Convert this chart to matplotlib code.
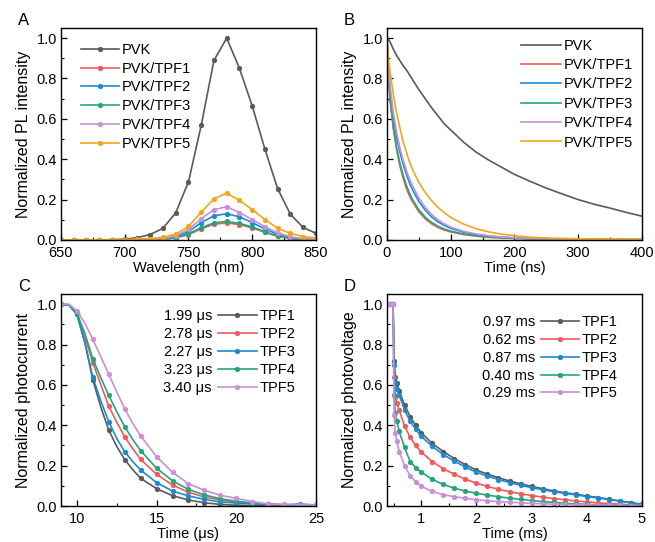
import matplotlib
matplotlib.use('Agg')
import numpy as np
from matplotlib import pyplot as plt
from matplotlib.ticker import MultipleLocator

plt.rcParams['font.family'] = ['Liberation Sans', 'DejaVu Sans']
plt.rcParams['font.size'] = 10
plt.rcParams['axes.linewidth'] = 1.0

# colours
c_gray = '#5a5a5a'
c_red = '#f15a5a'
c_blue = '#1a8bd3'
c_green = '#27a57a'
c_lilac = '#c990d8'
c_orange = '#f2a71b'

# ---- A: steady-state PL ----
wl = [650, 660, 670, 680, 690, 700, 710, 720, 730, 740, 750, 760, 770, 780, 790, 800, 810, 820, 830, 840, 850]
pl_pvk = [0, 0, 0, 0, 0.002, 0.004, 0.012, 0.027, 0.058, 0.135, 0.288, 0.568, 0.89, 1.0, 0.85, 0.664, 0.449, 0.253, 0.127, 0.062, 0.033]
pl_tpf1 = [0, 0, 0, 0, 0, 0, 0.001, 0.002, 0.004, 0.01, 0.027, 0.055, 0.078, 0.085, 0.076, 0.06, 0.038, 0.018, 0.007, 0.002, 0.001]
pl_tpf2 = [0, 0, 0, 0, 0, 0, 0.001, 0.002, 0.005, 0.016, 0.042, 0.086, 0.12, 0.13, 0.115, 0.086, 0.055, 0.028, 0.012, 0.004, 0.002]
pl_tpf3 = [0, 0, 0, 0, 0, 0, 0.001, 0.002, 0.004, 0.011, 0.031, 0.061, 0.085, 0.092, 0.082, 0.065, 0.041, 0.02, 0.008, 0.003, 0.001]
pl_tpf4 = [0, 0, 0, 0, 0, 0.001, 0.002, 0.003, 0.007, 0.021, 0.052, 0.106, 0.15, 0.165, 0.136, 0.101, 0.066, 0.036, 0.016, 0.006, 0.003]
pl_tpf5 = [0, 0, 0, 0, 0.001, 0.002, 0.004, 0.007, 0.013, 0.029, 0.067, 0.138, 0.204, 0.232, 0.196, 0.151, 0.101, 0.058, 0.033, 0.017, 0.01]

# ---- B: TRPL ----
t_b = [0, 2, 5, 10, 15, 20, 25, 30, 35, 40, 50, 60, 70, 80, 90, 100, 120, 140, 160, 180, 200, 225, 250, 275, 300, 325, 350, 375, 400]
tr_pvk = [1.0, 0.995, 0.98, 0.945, 0.915, 0.89, 0.865, 0.845, 0.82, 0.795, 0.745, 0.70, 0.655, 0.615, 0.575, 0.545, 0.485, 0.435, 0.395, 0.36, 0.325, 0.29, 0.257, 0.228, 0.2, 0.177, 0.158, 0.137, 0.118]
tr_tpf1 = [1.0, 0.83, 0.69, 0.55, 0.45, 0.37, 0.31, 0.26, 0.22, 0.19, 0.14, 0.105, 0.08, 0.062, 0.049, 0.04, 0.027, 0.019, 0.013, 0.01, 0.008, 0.006, 0.005, 0.004, 0.003, 0.003, 0.002, 0.002, 0.002]
tr_tpf2 = [1.0, 0.86, 0.74, 0.61, 0.51, 0.44, 0.38, 0.33, 0.285, 0.25, 0.19, 0.148, 0.115, 0.09, 0.072, 0.058, 0.039, 0.027, 0.019, 0.014, 0.01, 0.008, 0.006, 0.005, 0.004, 0.003, 0.003, 0.002, 0.002]
tr_tpf3 = [1.0, 0.84, 0.70, 0.56, 0.46, 0.385, 0.325, 0.275, 0.235, 0.2, 0.15, 0.113, 0.087, 0.068, 0.054, 0.044, 0.03, 0.021, 0.015, 0.011, 0.008, 0.006, 0.005, 0.004, 0.003, 0.003, 0.002, 0.002, 0.002]
tr_tpf4 = [1.0, 0.87, 0.76, 0.63, 0.535, 0.46, 0.40, 0.35, 0.305, 0.27, 0.208, 0.162, 0.127, 0.1, 0.08, 0.064, 0.043, 0.03, 0.021, 0.015, 0.011, 0.008, 0.006, 0.005, 0.004, 0.003, 0.003, 0.002, 0.002]
tr_tpf5 = [1.0, 0.91, 0.83, 0.72, 0.63, 0.56, 0.49, 0.44, 0.39, 0.35, 0.285, 0.235, 0.195, 0.162, 0.135, 0.112, 0.079, 0.056, 0.04, 0.029, 0.021, 0.014, 0.01, 0.008, 0.006, 0.005, 0.004, 0.003, 0.003]

# ---- C: transient photocurrent ----
t_c = [9.0, 9.5, 10.0, 10.5, 11.0, 11.5, 12.0, 12.5, 13.0, 13.5, 14.0, 15, 16, 17, 18, 19, 20, 21, 22, 23, 24, 25]
pc_tpf1 = [1.0, 0.995, 0.95, 0.81, 0.625, 0.49, 0.375, 0.295, 0.23, 0.18, 0.137, 0.086, 0.051, 0.03, 0.016, 0.008, 0.004, 0.002, 0.001, 0.0, 0.0, 0.0]
pc_tpf2 = [1.0, 0.995, 0.955, 0.84, 0.71, 0.6, 0.495, 0.415, 0.343, 0.284, 0.231, 0.157, 0.104, 0.068, 0.045, 0.03, 0.02, 0.012, 0.008, 0.005, 0.003, 0.002]
pc_tpf3 = [1.0, 0.995, 0.95, 0.81, 0.637, 0.52, 0.417, 0.335, 0.269, 0.22, 0.178, 0.116, 0.074, 0.05, 0.033, 0.02, 0.015, 0.01, 0.01, 0.006, 0.01, 0.005]
pc_tpf4 = [1.0, 0.995, 0.955, 0.855, 0.728, 0.635, 0.548, 0.467, 0.393, 0.33, 0.274, 0.187, 0.125, 0.082, 0.055, 0.036, 0.024, 0.015, 0.01, 0.006, 0.004, 0.003]
pc_tpf5 = [1.0, 1.0, 0.967, 0.905, 0.825, 0.74, 0.652, 0.565, 0.482, 0.41, 0.347, 0.244, 0.167, 0.11, 0.078, 0.053, 0.038, 0.022, 0.01, 0.008, 0.006, 0.005]
tau_c = ['1.99 \u03bcs', '2.78 \u03bcs', '2.27 \u03bcs', '3.23 \u03bcs', '3.40 \u03bcs']

# ---- D: transient photovoltage ----
t_d = [0.38, 0.44, 0.49, 0.51, 0.53, 0.56, 0.6, 0.7, 0.8, 0.9, 1.0, 1.2, 1.4, 1.6, 1.8, 2.0, 2.2, 2.4, 2.6, 2.8, 3.0, 3.2, 3.4, 3.6, 3.8, 4.0, 4.2, 4.4, 4.6, 4.8, 5.0]
pv_tpf1 = [1.0, 1.0, 1.0, 0.72, 0.64, 0.61, 0.57, 0.5, 0.442, 0.40, 0.363, 0.31, 0.27, 0.235, 0.205, 0.178, 0.158, 0.14, 0.124, 0.11, 0.097, 0.086, 0.075, 0.066, 0.058, 0.05, 0.042, 0.034, 0.025, 0.017, 0.008]
pv_tpf2 = [1.0, 1.0, 1.0, 0.64, 0.54, 0.51, 0.475, 0.395, 0.34, 0.3, 0.268, 0.22, 0.185, 0.157, 0.133, 0.113, 0.097, 0.083, 0.071, 0.061, 0.052, 0.044, 0.037, 0.031, 0.025, 0.02, 0.016, 0.012, 0.009, 0.006, 0.004]
pv_tpf3 = [1.0, 1.0, 1.0, 0.7, 0.61, 0.58, 0.55, 0.475, 0.42, 0.38, 0.345, 0.295, 0.255, 0.222, 0.193, 0.167, 0.148, 0.131, 0.116, 0.103, 0.091, 0.081, 0.071, 0.063, 0.055, 0.047, 0.04, 0.032, 0.024, 0.016, 0.008]
pv_tpf4 = [1.0, 1.0, 1.0, 0.55, 0.46, 0.42, 0.37, 0.29, 0.22, 0.19, 0.168, 0.132, 0.107, 0.088, 0.074, 0.063, 0.054, 0.046, 0.039, 0.033, 0.027, 0.022, 0.018, 0.014, 0.011, 0.008, 0.006, 0.005, 0.004, 0.003, 0.002]
pv_tpf5 = [1.0, 1.0, 1.0, 0.45, 0.36, 0.32, 0.27, 0.2, 0.15, 0.12, 0.098, 0.072, 0.056, 0.046, 0.038, 0.031, 0.026, 0.022, 0.019, 0.016, 0.013, 0.011, 0.009, 0.008, 0.007, 0.005, 0.004, 0.003, 0.003, 0.002, 0.002]
tau_d = ['0.97 ms', '0.62 ms', '0.87 ms', '0.40 ms', '0.29 ms']

fig = plt.figure(figsize=(6.55, 5.42), dpi=100)
axA = fig.add_axes([0.0931, 0.5572, 0.3893, 0.3911])
axB = fig.add_axes([0.5908, 0.5572, 0.3893, 0.3911])
axC = fig.add_axes([0.0931, 0.0664, 0.3893, 0.3911])
axD = fig.add_axes([0.5908, 0.0664, 0.3893, 0.3911])

mk = dict(marker='o', markersize=3.2, markeredgewidth=0.6, linewidth=1.2)
leg_kw = dict(loc='upper left', frameon=False, fontsize=10.5, handletextpad=0.2,
              borderpad=0, borderaxespad=0)


def style(ax, xmaj, xmin, xlim, xlabel, ylabel):
    ax.set_xlim(*xlim)
    ax.set_ylim(0, 1.05)
    ax.xaxis.set_major_locator(MultipleLocator(xmaj))
    ax.xaxis.set_minor_locator(MultipleLocator(xmin))
    ax.yaxis.set_major_locator(MultipleLocator(0.2))
    ax.yaxis.set_minor_locator(MultipleLocator(0.1))
    ax.yaxis.set_major_formatter(matplotlib.ticker.FormatStrFormatter('%.1f'))
    ax.tick_params(which='both', direction='in', top=False, right=False, labelsize=10.5)
    ax.tick_params(axis='x', pad=4)
    ax.tick_params(axis='y', pad=3)
    ax.tick_params(which='major', length=4, width=0.9)
    ax.tick_params(which='minor', length=2.5, width=0.8)
    ax.set_xlabel(xlabel, fontsize=10.5, labelpad=1)
    ax.set_ylabel(ylabel, fontsize=11.5, labelpad=4)


# A
for y, c, lab in [(pl_pvk, c_gray, 'PVK'), (pl_tpf1, c_red, 'PVK/TPF1'), (pl_tpf2, c_blue, 'PVK/TPF2'),
                  (pl_tpf3, c_green, 'PVK/TPF3'), (pl_tpf4, c_lilac, 'PVK/TPF4'), (pl_tpf5, c_orange, 'PVK/TPF5')]:
    axA.plot(wl, y, color=c, label=lab, **mk)
style(axA, 50, 25, (650, 850), 'Wavelength (nm)', 'Normalized PL intensity')
axA.legend(bbox_to_anchor=(0.08, 0.93), handlelength=2.6, labelspacing=0.33, **leg_kw)

# B
for y, c, lab in [(tr_pvk, c_gray, 'PVK'), (tr_tpf1, c_red, 'PVK/TPF1'), (tr_tpf2, c_blue, 'PVK/TPF2'),
                  (tr_tpf3, c_green, 'PVK/TPF3'), (tr_tpf4, c_lilac, 'PVK/TPF4'), (tr_tpf5, c_orange, 'PVK/TPF5')]:
    axB.plot(t_b, y, color=c, label=lab, linewidth=1.2)
style(axB, 100, 50, (0, 400), 'Time (ns)', 'Normalized PL intensity')
axB.legend(bbox_to_anchor=(0.527, 0.95), handlelength=2.7, labelspacing=0.37, **leg_kw)

# C
int_idx = [i for i, t in enumerate(t_c) if float(t).is_integer()]
for y, c, lab in [(pc_tpf1, c_gray, 'TPF1'), (pc_tpf2, c_red, 'TPF2'), (pc_tpf3, c_blue, 'TPF3'),
                  (pc_tpf4, c_green, 'TPF4'), (pc_tpf5, c_lilac, 'TPF5')]:
    axC.plot(t_c, y, color=c, label=lab, markevery=int_idx, **mk)
style(axC, 5, 2.5, (9, 25), 'Time (\u03bcs)', 'Normalized photocurrent')
legC = axC.legend(bbox_to_anchor=(0.614, 0.93), handlelength=2.7, labelspacing=0.28, **leg_kw)

# D
for y, c, lab in [(pv_tpf1, c_gray, 'TPF1'), (pv_tpf2, c_red, 'TPF2'), (pv_tpf3, c_blue, 'TPF3'),
                  (pv_tpf4, c_green, 'TPF4'), (pv_tpf5, c_lilac, 'TPF5')]:
    axD.plot(t_d, y, color=c, label=lab, **mk)
style(axD, 1, 0.5, (0.38, 5), 'Time (ms)', 'Normalized photovoltage')
legD = axD.legend(bbox_to_anchor=(0.605, 0.9), handlelength=2.6, labelspacing=0.26, **leg_kw)

# lifetime labels aligned with legend rows
fig.canvas.draw()
for ax, leg, taus, xr in [(axC, legC, tau_c, 0.592), (axD, legD, tau_d, 0.580)]:
    inv = ax.transAxes.inverted()
    for txt, tau in zip(leg.get_texts(), taus):
        bb = txt.get_window_extent()
        yc = inv.transform((0, (bb.y0 + bb.y1) / 2))[1]
        ax.text(xr, yc, tau, transform=ax.transAxes, ha='right', va='center', fontsize=10.5)

# panel letters
for ax, letter in [(axA, 'A'), (axB, 'B'), (axC, 'C'), (axD, 'D')]:
    ax.text(-0.17, 1.0, letter, transform=ax.transAxes, fontsize=12, ha='left', va='bottom')

fig.savefig('out.png', dpi=100)
